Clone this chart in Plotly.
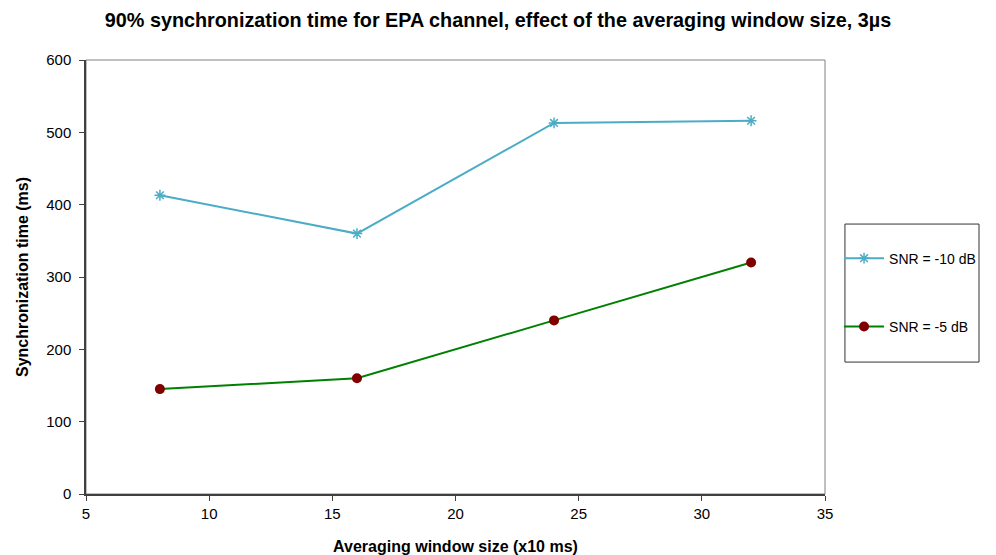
import plotly.graph_objects as go

x_vals = [8, 16, 24, 32]
snr_m10 = [413, 360, 513, 516]
snr_m5 = [145, 160, 240, 320]
names = ["SNR = -10 dB", "SNR = -5 dB"]
FONT = "Liberation Sans, Arial"

fig = go.Figure()
fig.add_trace(go.Scatter(
    x=x_vals, y=snr_m10, name=names[0], mode="lines+markers",
    line=dict(color="#4BACC6", width=2),
    marker=dict(symbol="asterisk-open", size=9, color="#4BACC6", line=dict(width=1.5, color="#4BACC6")),
    legendgroup="a"))
fig.add_trace(go.Scatter(
    x=x_vals, y=snr_m5, name=names[1], mode="lines+markers",
    line=dict(color="#008000", width=2),
    marker=dict(symbol="circle", size=10, color="#800000"),
    legendgroup="b"))

axis_common = dict(showgrid=False, zeroline=False, showline=True, linecolor="#404040",
                   linewidth=1.5, mirror=False, ticks="outside", ticklen=5, tickcolor="#404040",
                   automargin=False,
                   tickfont=dict(family=FONT, size=15, color="black"))
fig.update_xaxes(range=[5, 35], dtick=5, ticklabelstandoff=0,
                 title=dict(text="<b>Averaging window size (x10 ms)</b>",
                            font=dict(family=FONT, size=16, color="black"), standoff=27),
                 **axis_common)
fig.update_yaxes(range=[0, 600], dtick=100, ticklabelstandoff=5,
                 title=dict(text="<b>Synchronization time (ms)</b>",
                            font=dict(family=FONT, size=16, color="black"), standoff=14),
                 **axis_common)

# plot frame (top/right in light gray)
fig.add_shape(type="rect", xref="x domain", yref="y domain", x0=0, x1=1, y0=0, y1=1,
              line=dict(color="#808080", width=1), layer="below")
# legend box
fig.add_shape(type="rect", xref="paper", yref="paper", x0=1.027, x1=1.2084, y0=0.304, y1=0.622,
              line=dict(color="#333333", width=1))

fig.update_layout(
    width=996, height=555,
    margin=dict(l=86, r=171, t=60, b=61),
    paper_bgcolor="white", plot_bgcolor="white",
    title=dict(text="<b>90% synchronization time for EPA channel, effect of the averaging window size, 3µs</b>",
               font=dict(family=FONT, size=19.8, color="black"),
               x=0.5, xanchor="center", y=0.963, yanchor="middle"),
    legend=dict(x=1.019, xanchor="left", y=0.464, yanchor="middle",
                borderwidth=0, bgcolor="rgba(0,0,0,0)",
                font=dict(family=FONT, size=14, color="black"),
                tracegroupgap=47, traceorder="grouped", itemwidth=40),
)

fig.write_html("out.html")
